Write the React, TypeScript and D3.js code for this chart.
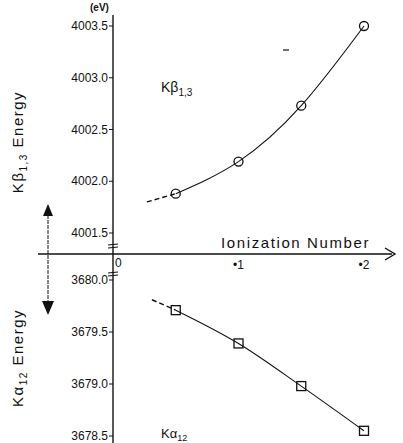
import * as React from 'react';
import * as d3 from 'd3';

// ionization number (x) and line energies (eV)
const ionX = [0.05, 0.1, 0.15, 0.2];
const kbEnergy = [4001.88, 4002.19, 4002.73, 4003.5];
const kaEnergy = [3679.71, 3679.39, 3678.98, 3678.55];
// dashed extrapolation toward zero ionization
const kbExtrap = [[0.027, 4001.8], [0.05, 4001.88]];
const kaExtrap = [[0.031, 3679.81], [0.05, 3679.71]];

const kbTicks = [4003.5, 4003.0, 4002.5, 4002.0, 4001.5];
const kaTicks = [3680.0, 3679.5, 3679.0, 3678.5];
const xTicks = [0.1, 0.2];

const W = 403;
const H = 443;
const axisX = 113;
const axisY = 254;
const font = "'Liberation Sans Narrow', 'Liberation Sans', sans-serif";
const sans = "'Liberation Sans', sans-serif";

export default function App() {
  const x = d3.scaleLinear().domain([0, 0.2]).range([axisX, 364]);
  const yTop = d3.scaleLinear().domain([4001.5, 4003.5]).range([233, 26]);
  const yBot = d3.scaleLinear().domain([3678.5, 3680.0]).range([436, 280]);

  const topLine = d3.line<number>().x((_, i) => x(ionX[i])).y(d => yTop(d)).curve(d3.curveNatural);
  const botLine = d3.line<number>().x((_, i) => x(ionX[i])).y(d => yBot(d)).curve(d3.curveMonotoneX);
  const extTop = d3.line<number[]>().x(d => x(d[0])).y(d => yTop(d[1]));
  const extBot = d3.line<number[]>().x(d => x(d[0])).y(d => yBot(d[1]));

  const fmt = (v: number) => v.toFixed(1);

  return (
    <svg width={W} height={H} style={{ position: 'absolute', left: 0, top: 0, background: '#fff' }}>
      <g stroke="#111" fill="none">
        {/* vertical axis with breaks */}
        <line x1={axisX} y1={15} x2={axisX} y2={H} strokeWidth={1.4} />
        <line x1={108} y1={245} x2={118} y2={244} strokeWidth={1.2} />
        <line x1={108} y1={248} x2={118} y2={247} strokeWidth={1.2} />
        <line x1={108} y1={273} x2={118} y2={272} strokeWidth={1.2} />
        <line x1={108} y1={276} x2={118} y2={275} strokeWidth={1.2} />
        {/* horizontal axis */}
        <line x1={38} y1={axisY} x2={392} y2={axisY} strokeWidth={1.4} />
        <path d={`M385,${axisY - 6} L395,${axisY} L385,${axisY + 6}`} strokeWidth={1.4} />
        {/* double arrow on the left */}
        <line x1={48} y1={210} x2={48} y2={304} strokeWidth={1} strokeDasharray="4,1" />
      </g>
      <path d="M48,204 L43,216 L53,216 Z" fill="#111" />
      <path d="M42,301 L54,301 L48,315 Z" fill="#111" />

      {/* y ticks */}
      {kbTicks.map(t => (
        <g key={'kb' + t} transform={`translate(${axisX},${yTop(t)})`}>
          <line x1={-4} x2={0} stroke="#111" />
          <text x={-5} dy="0.35em" textAnchor="end" fontSize={12} fontFamily={font} fill="#111">{fmt(t)}</text>
        </g>
      ))}
      {kaTicks.map(t => (
        <g key={'ka' + t} transform={`translate(${axisX},${yBot(t)})`}>
          <line x1={-4} x2={0} stroke="#111" />
          <text x={-5} dy="0.35em" textAnchor="end" fontSize={12} fontFamily={font} fill="#111">{fmt(t)}</text>
        </g>
      ))}
      {xTicks.map(t => (
        <text key={'x' + t} x={x(t)} y={axisY + 15} textAnchor="middle" fontSize={12} fontFamily={font} fill="#111">
          {'•' + String(t).replace('0.', '')}
        </text>
      ))}
      <text x={axisX + 2} y={axisY + 13} fontSize={12} fontFamily={font} fill="#111">0</text>
      <text x={90} y={11} fontSize={10} fontFamily={font} fill="#111" fontWeight="bold">(eV)</text>

      {/* axis titles */}
      <text x={370} y={248} textAnchor="end" fontSize={15} fontFamily={sans} letterSpacing={1.6} fill="#111">Ionization Number</text>
      <text transform="translate(23,142) rotate(-90)" textAnchor="middle" fontSize={15} fontFamily={sans} letterSpacing={1.5} fill="#111">
        Kβ<tspan fontSize={10} dy={4}>1,3</tspan><tspan dy={-4}> Energy</tspan>
      </text>
      <text transform="translate(23,358) rotate(-90)" textAnchor="middle" fontSize={15} fontFamily={sans} letterSpacing={1.5} fill="#111">
        Kα<tspan fontSize={10} dy={4}>12</tspan><tspan dy={-4}> Energy</tspan>
      </text>

      {/* series labels */}
      <text x={161} y={92} fontSize={14} fontFamily={sans} fill="#111">
        Kβ<tspan fontSize={10} dy={4}>1,3</tspan>
      </text>
      <text x={161} y={438} fontSize={13} fontFamily={sans} fill="#111">
        Kα<tspan fontSize={9} dy={3}>12</tspan>
      </text>
      <line x1={283} y1={50} x2={289} y2={50} stroke="#111" strokeWidth={1.2} />

      {/* Kβ curve */}
      <path d={topLine(kbEnergy) || ''} fill="none" stroke="#111" strokeWidth={1.1} />
      <path d={extTop(kbExtrap) || ''} fill="none" stroke="#111" strokeWidth={1.4} strokeDasharray="5,3" />
      {kbEnergy.map((v, i) => (
        <circle key={'c' + i} cx={x(ionX[i])} cy={yTop(v)} r={4.5} fill="none" stroke="#111" strokeWidth={1.3} />
      ))}

      {/* Kα curve */}
      <path d={botLine(kaEnergy) || ''} fill="none" stroke="#111" strokeWidth={1.1} />
      <path d={extBot(kaExtrap) || ''} fill="none" stroke="#111" strokeWidth={1.4} strokeDasharray="5,3" />
      {kaEnergy.map((v, i) => (
        <rect key={'s' + i} x={x(ionX[i]) - 4.5} y={yBot(v) - 4.5} width={9} height={9} fill="none" stroke="#111" strokeWidth={1.3} />
      ))}
    </svg>
  );
}
